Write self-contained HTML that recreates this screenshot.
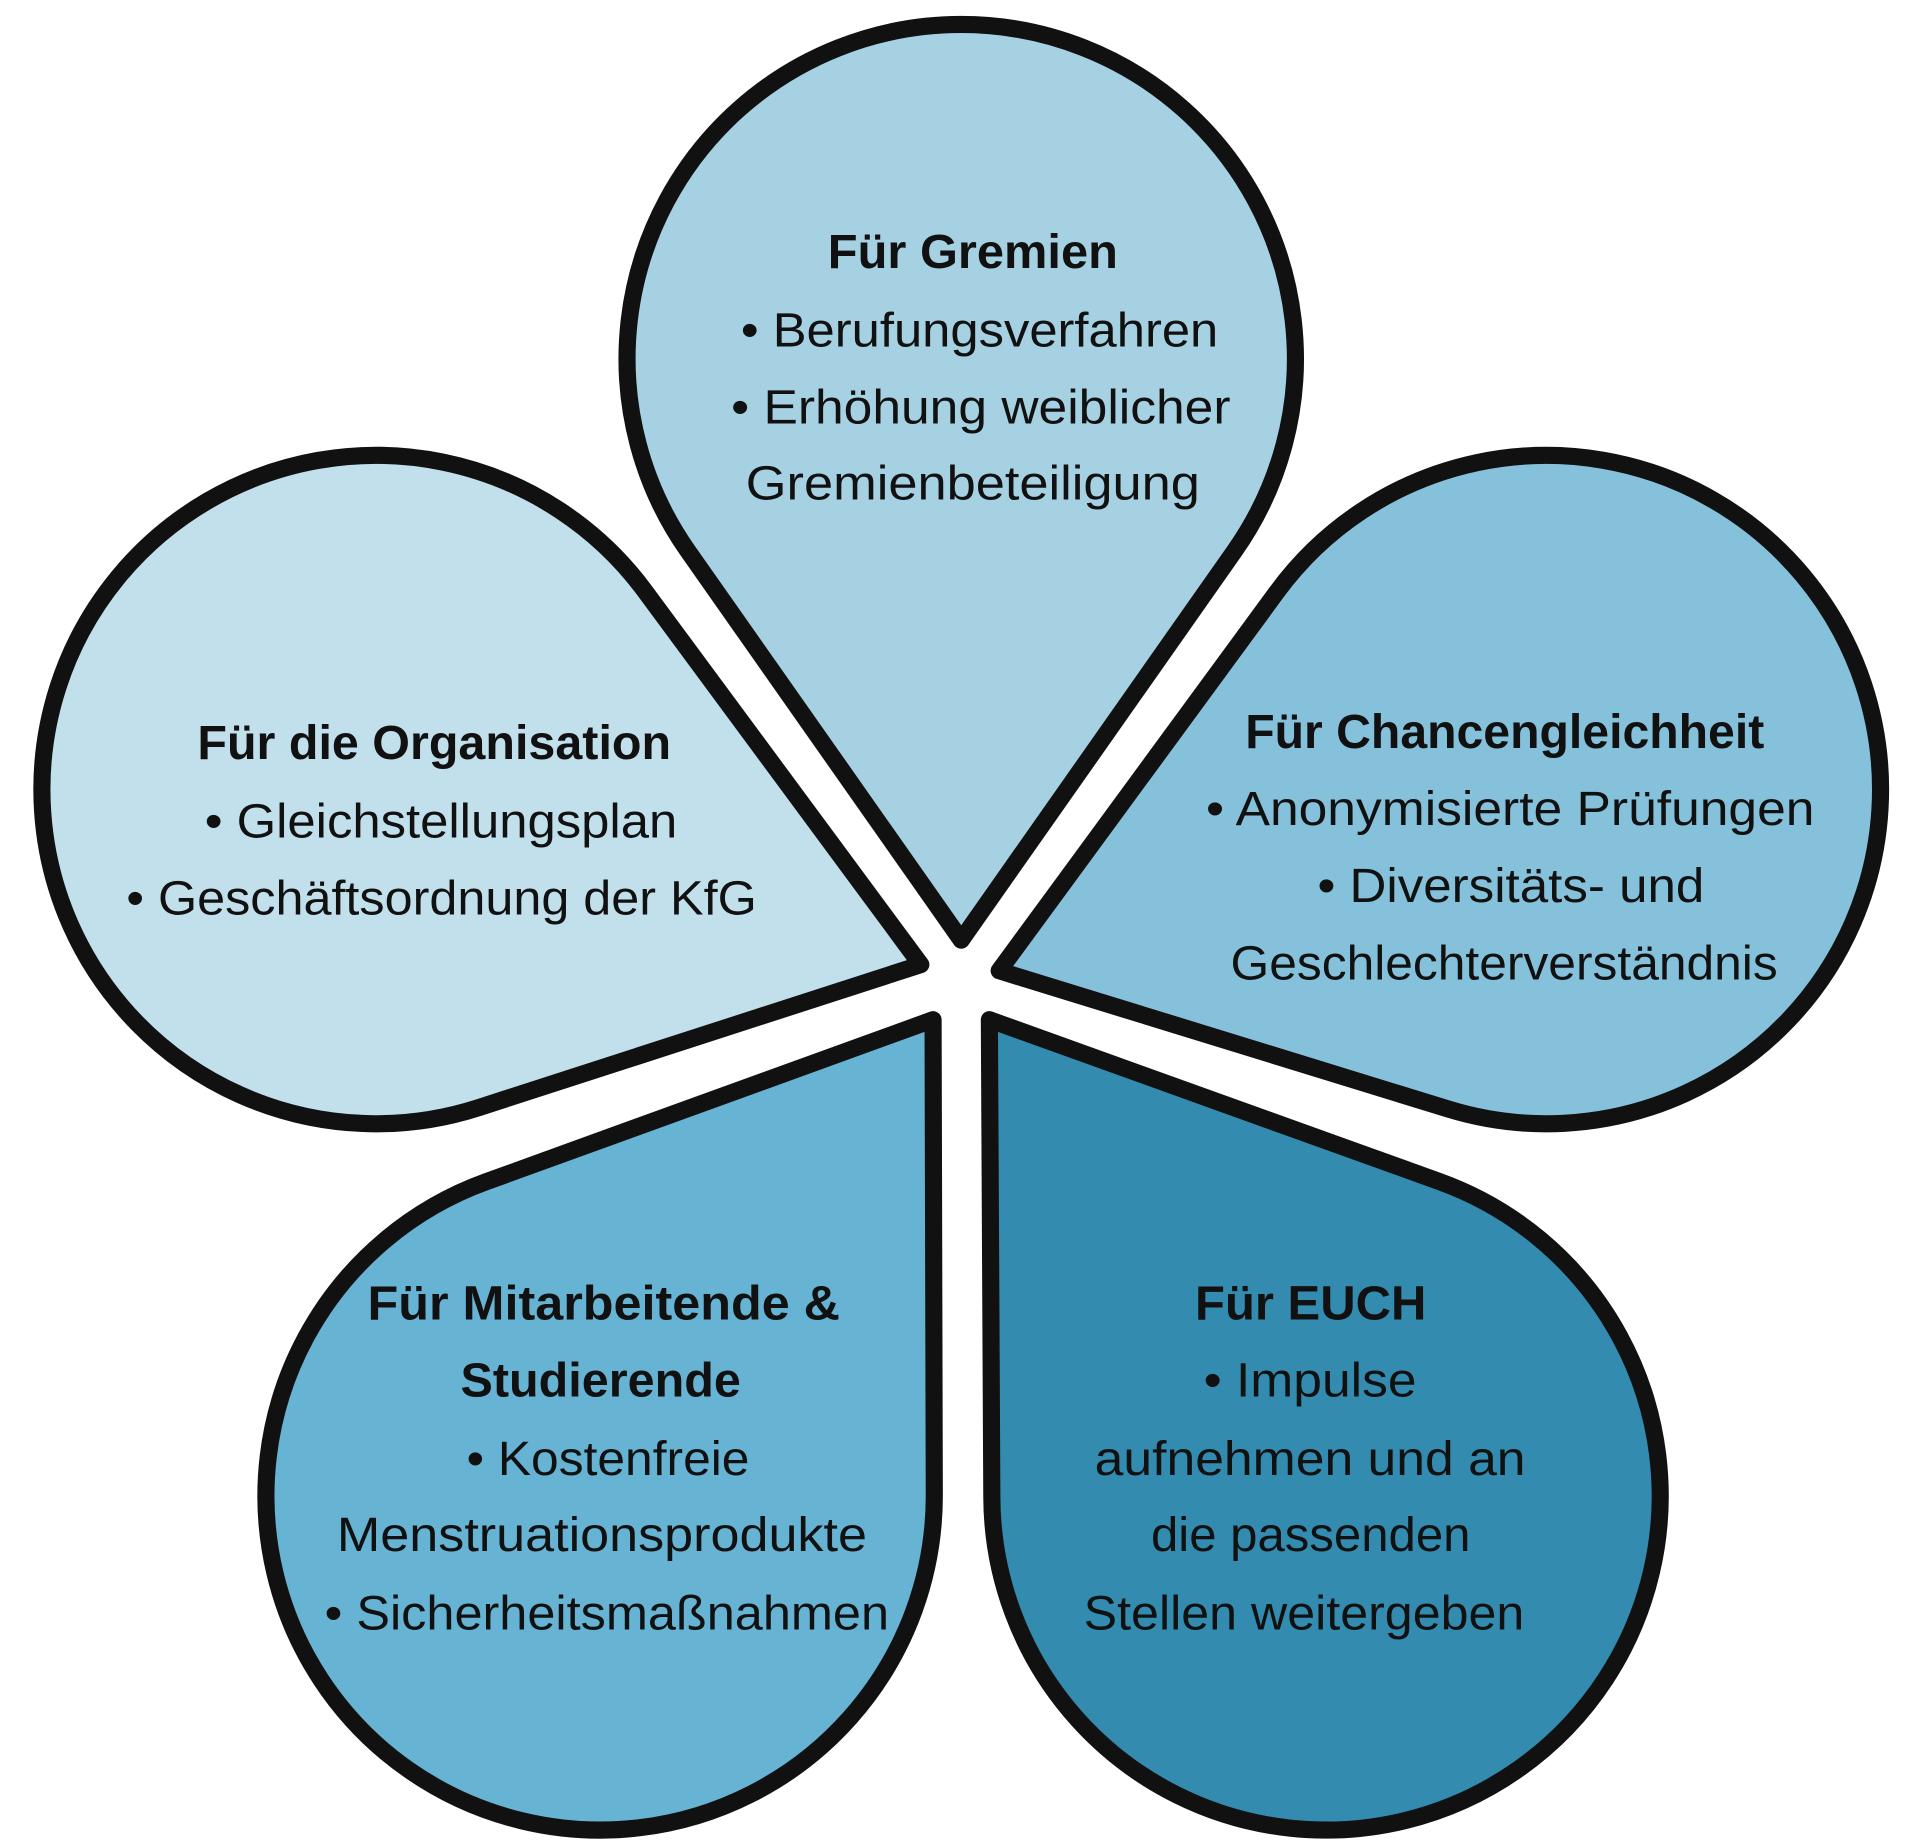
<!DOCTYPE html>
<html><head><meta charset="utf-8"><style>
html,body{margin:0;padding:0;background:#fff;}
svg{display:block;}
text{font-family:"Liberation Sans",sans-serif;font-size:39px;fill:#111;}
.b{font-weight:bold;}
</style></head><body>
<svg width="1920" height="1846" viewBox="0 0 1568 1508" xmlns="http://www.w3.org/2000/svg">
<g id="petals"></g>
<g>
<text class="b" x="676" y="219" textLength="237" lengthAdjust="spacingAndGlyphs">Für Gremien</text>
<text x="605" y="283" textLength="390" lengthAdjust="spacingAndGlyphs">• Berufungsverfahren</text>
<text x="597" y="346" textLength="408" lengthAdjust="spacingAndGlyphs">• Erhöhung weiblicher</text>
<text x="609" y="408" textLength="371" lengthAdjust="spacingAndGlyphs">Gremienbeteiligung</text>

<text class="b" x="161" y="620" textLength="387" lengthAdjust="spacingAndGlyphs">Für die Organisation</text>
<text x="167" y="684" textLength="386" lengthAdjust="spacingAndGlyphs">• Gleichstellungsplan</text>
<text x="103" y="747" textLength="515" lengthAdjust="spacingAndGlyphs">• Geschäftsordnung der KfG</text>

<text class="b" x="1017" y="611" textLength="424" lengthAdjust="spacingAndGlyphs">Für Chancengleichheit</text>
<text x="985" y="674" textLength="497" lengthAdjust="spacingAndGlyphs">• Anonymisierte Prüfungen</text>
<text x="1076" y="737" textLength="316" lengthAdjust="spacingAndGlyphs">• Diversitäts- und</text>
<text x="1005" y="800" textLength="447" lengthAdjust="spacingAndGlyphs">Geschlechterverständnis</text>

<text class="b" x="300" y="1078" textLength="386" lengthAdjust="spacingAndGlyphs">Für Mitarbeitende &amp;</text>
<text class="b" x="376" y="1141" textLength="229" lengthAdjust="spacingAndGlyphs">Studierende</text>
<text x="381" y="1205" textLength="231" lengthAdjust="spacingAndGlyphs">• Kostenfreie</text>
<text x="275" y="1267" textLength="433" lengthAdjust="spacingAndGlyphs">Menstruationsprodukte</text>
<text x="265" y="1331" textLength="461" lengthAdjust="spacingAndGlyphs">• Sicherheitsmaßnahmen</text>

<text class="b" x="976" y="1078" textLength="189" lengthAdjust="spacingAndGlyphs">Für EUCH</text>
<text x="983" y="1141" textLength="174" lengthAdjust="spacingAndGlyphs">• Impulse</text>
<text x="894" y="1205" textLength="352" lengthAdjust="spacingAndGlyphs">aufnehmen und an</text>
<text x="940" y="1267" textLength="261" lengthAdjust="spacingAndGlyphs">die passenden</text>
<text x="885" y="1331" textLength="360" lengthAdjust="spacingAndGlyphs">Stellen weitergeben</text>
</g>
<script>
(function(){
var P=[
 {c:[785,293],t:[785,768],f:"#a6d1e3"},
 {c:[307,645],t:[752,788],f:"#c2e0ec"},
 {c:[1263,645],t:[816,793],f:"#86c1db"},
 {c:[490,1222],t:[762,833],f:"#66b3d4"},
 {c:[1083,1222],t:[808,833],f:"#338cb0"}
];
var r=273,g=document.getElementById("petals"),ns="http://www.w3.org/2000/svg";
P.forEach(function(p){
 var dx=p.t[0]-p.c[0],dy=p.t[1]-p.c[1],d=Math.hypot(dx,dy),ux=dx/d,uy=dy/d;
 var ph=Math.acos(r/d);
 function rot(a){return [p.c[0]+r*(ux*Math.cos(a)-uy*Math.sin(a)),p.c[1]+r*(ux*Math.sin(a)+uy*Math.cos(a))];}
 var a=rot(ph),b=rot(-ph);
 var path=document.createElementNS(ns,"path");
 path.setAttribute("d","M"+p.t[0]+" "+p.t[1]+" L"+a[0]+" "+a[1]+" A"+r+" "+r+" 0 1 1 "+b[0]+" "+b[1]+" Z");
 path.setAttribute("fill",p.f);path.setAttribute("stroke","#111");
 path.setAttribute("stroke-width","14");path.setAttribute("stroke-linejoin","round");
 g.appendChild(path);
});
})();
</script>
</svg>
</body></html>
